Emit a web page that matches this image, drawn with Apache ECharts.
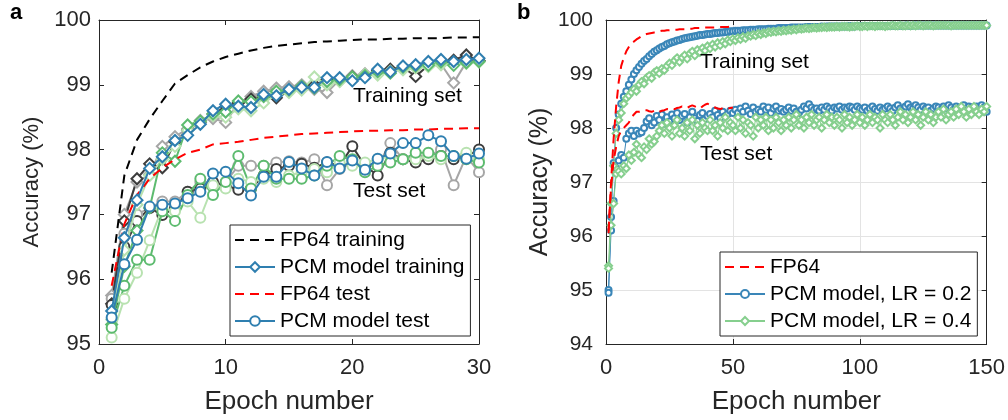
<!DOCTYPE html>
<html>
<head>
<meta charset="utf-8">
<script src="https://cdn.jsdelivr.net/npm/echarts@6/dist/echarts.min.js"></script>
<style>html,body{margin:0;padding:0;background:#fff}#c{width:1008px;height:420px}</style>
</head>
<body>
<div id="c"></div>
<script>
// ---------- Panel a (30 epochs) ----------
const fp64TrainA = [96.1,97.6,98.15,98.47,98.75,99.02,99.15,99.27,99.36,99.43,99.48,99.53,99.57,99.6,99.62,99.64,99.66,99.67,99.68,99.69,99.7,99.7,99.71,99.71,99.72,99.72,99.72,99.73,99.73,99.735];
const fp64TestA = [95.9,96.85,97.3,97.55,97.72,97.85,97.95,98.0,98.08,98.1,98.12,98.15,98.18,98.2,98.22,98.24,98.25,98.26,98.27,98.28,98.29,98.29,98.3,98.3,98.31,98.31,98.32,98.32,98.33,98.33];
const pcmTrainA = [95.51,96.64,97.22,97.71,97.89,98.14,98.22,98.39,98.6,98.7,98.67,98.65,98.85,98.83,98.93,98.96,98.96,99.11,99.11,99.06,99.11,99.24,99.2,99.29,99.31,99.36,99.39,99.36,99.39,99.41];
const pcmTestA = [95.41,96.23,96.61,97.12,97.15,97.17,97.25,97.35,97.63,97.66,97.48,97.29,97.58,97.58,97.81,97.71,97.6,97.81,97.71,97.83,97.69,97.86,97.94,98.1,98.1,98.22,98.13,97.9,97.86,97.94];
const darkTrainA = [95.62,96.9,97.55,97.78,97.72,98.12,98.3,98.42,98.55,98.66,98.72,98.78,98.83,98.8,98.9,98.95,99.0,99.08,99.06,99.12,99.15,99.22,99.24,99.27,99.13,99.3,99.33,99.38,99.46,99.37];
const darkTestA = [95.6,96.5,96.9,97.1,96.99,97.1,97.35,97.4,97.5,97.45,97.38,97.4,97.6,97.7,97.75,97.78,97.72,97.8,97.75,98.05,97.75,97.6,97.95,97.85,97.8,97.85,97.9,97.85,97.9,98.0];
const greyTrainA = [95.75,97.0,97.5,97.62,98.05,98.2,98.32,98.45,98.48,98.42,98.72,98.82,98.9,98.95,98.97,99.0,98.93,98.88,99.08,99.14,99.17,99.2,99.21,99.25,99.27,99.3,99.32,99.03,99.35,99.37];
const greyTestA = [95.7,96.7,97.0,97.1,97.2,97.2,97.35,97.5,97.45,97.5,97.75,97.75,97.75,97.8,97.82,97.8,97.85,97.45,97.7,97.8,97.75,97.75,98.1,97.85,97.9,97.9,98.0,97.45,97.9,97.65];
const midTrainA = [95.3,96.2,96.75,97.1,97.95,97.82,98.38,98.44,98.55,98.58,98.75,98.74,98.82,98.9,98.92,98.98,98.95,99.05,99.08,99.12,99.14,99.2,99.18,99.27,99.29,99.3,99.35,99.3,99.34,99.36];
const midTestA = [95.25,95.9,96.3,96.3,97.05,96.9,97.3,97.55,97.3,97.5,97.9,97.4,97.75,97.55,97.55,97.55,97.6,97.75,97.9,97.85,97.65,97.75,97.8,97.85,97.95,97.95,97.9,97.9,97.85,97.8];
const lightTrainA = [95.38,96.45,97.15,97.6,97.85,98.05,98.3,98.43,98.52,98.5,98.63,98.6,98.72,98.85,98.88,98.92,99.12,99.0,99.05,99.1,99.16,99.15,99.21,99.23,99.26,99.28,99.31,99.32,99.33,99.35];
const lightTestA = [95.1,95.7,96.1,96.6,97.1,97.05,97.2,96.95,97.45,97.4,97.55,97.5,97.55,97.5,97.6,97.65,97.7,97.65,97.8,97.75,97.8,97.85,97.9,97.85,97.85,97.9,97.85,97.9,97.95,97.85];

// ---------- Panel b (150 epochs; FP64 50 epochs) ----------
const fp64TrainB = [96.05,97.0,97.8,98.4,98.85,99.15,99.3,99.42,99.5,99.56,
99.6,99.64,99.67,99.7,99.72,99.74,99.75,99.76,99.77,99.78,
99.79,99.8,99.8,99.81,99.81,99.82,99.82,99.82,99.83,99.83,
99.83,99.84,99.84,99.84,99.85,99.85,99.85,99.85,99.86,99.86,
99.86,99.86,99.86,99.87,99.87,99.87,99.87,99.87,99.88,99.88];
const fp64TestB = [96.1,96.9,97.4,97.65,97.85,97.95,98.0,98.05,98.1,98.2,
98.25,98.3,98.3,98.32,98.33,98.33,98.31,98.3,98.32,98.33,
98.3,98.32,98.33,98.35,98.34,98.36,98.35,98.37,98.38,98.4,
98.38,98.37,98.4,98.42,98.4,98.38,98.36,98.4,98.43,98.45,
98.42,98.4,98.38,98.36,98.35,98.37,98.38,98.36,98.37,98.38];
const lr02TrainB = [95.0,96.35,97.35,98.0,98.25,98.45,98.58,98.68,98.8,98.9,
99.0,99.07,99.13,99.19,99.24,99.28,99.33,99.37,99.41,99.44,
99.47,99.5,99.52,99.55,99.57,99.59,99.6,99.62,99.63,99.65,
99.66,99.67,99.68,99.69,99.7,99.71,99.72,99.72,99.73,99.74,
99.74,99.75,99.76,99.76,99.77,99.77,99.78,99.78,99.79,99.79,
99.8,99.8,99.8,99.81,99.81,99.81,99.82,99.82,99.82,99.83,
99.83,99.83,99.83,99.84,99.84,99.84,99.84,99.85,99.85,99.85,
99.85,99.85,99.86,99.86,99.86,99.86,99.86,99.86,99.87,99.87,
99.87,99.87,99.87,99.87,99.88,99.87,99.88,99.88,99.88,99.88,
99.88,99.88,99.88,99.88,99.88,99.89,99.88,99.88,99.89,99.89,
99.89,99.89,99.89,99.89,99.89,99.89,99.89,99.89,99.89,99.89,
99.89,99.89,99.9,99.89,99.89,99.9,99.89,99.9,99.9,99.89,
99.9,99.9,99.9,99.9,99.9,99.9,99.9,99.9,99.9,99.9,
99.9,99.9,99.9,99.9,99.9,99.9,99.9,99.9,99.9,99.9,
99.9,99.9,99.9,99.9,99.9,99.9,99.9,99.9,99.9,99.9];
const lr02TestB = [94.95,96.1,96.65,97.25,97.4,97.5,97.45,97.8,97.9,97.95,
97.85,97.95,97.9,97.92,98.0,98.12,98.18,98.05,98.1,98.22,
98.15,98.25,98.08,98.2,98.12,98.25,98.18,98.28,98.15,98.22,
98.26,98.1,98.2,98.3,98.18,98.13,98.24,98.28,98.16,98.22,
98.26,98.2,98.32,98.24,98.18,98.3,98.22,98.26,98.32,98.28,
98.34,98.28,98.36,98.3,98.4,98.32,98.26,98.38,98.3,98.34,
98.3,98.4,98.34,98.38,98.28,98.36,98.4,98.32,98.35,98.3,
98.34,98.38,98.32,98.36,98.3,98.28,98.34,98.4,98.36,98.44,
98.38,98.34,98.36,98.32,98.38,98.34,98.4,98.36,98.32,98.38,
98.36,98.4,98.34,98.38,98.36,98.4,98.38,98.34,98.4,98.36,
98.34,98.38,98.32,98.36,98.4,98.35,98.32,98.38,98.34,98.36,
98.4,98.36,98.32,98.38,98.42,98.36,98.34,98.4,98.44,98.38,
98.36,98.42,98.38,98.34,98.4,98.36,98.38,98.32,98.36,98.4,
98.38,98.34,98.4,98.36,98.42,98.38,98.34,98.4,98.36,98.38,
98.42,98.36,98.4,98.38,98.34,98.4,98.36,98.42,98.38,98.3];
const lr04TrainB = [95.45,96.6,97.3,97.9,98.15,98.28,98.45,98.55,98.6,98.66,
98.72,98.68,98.8,98.86,98.82,98.93,98.97,98.92,99.03,99.06,
99.01,99.1,99.07,99.15,99.2,99.16,99.25,99.3,99.22,99.3,
99.35,99.28,99.38,99.42,99.34,99.45,99.4,99.48,99.43,99.52,
99.47,99.55,99.5,99.58,99.53,99.6,99.56,99.63,99.6,99.65,
99.62,99.67,99.64,99.69,99.66,99.71,99.7,99.73,99.71,99.75,
99.73,99.76,99.75,99.78,99.77,99.79,99.78,99.8,99.79,99.81,
99.8,99.82,99.81,99.83,99.82,99.84,99.83,99.84,99.85,99.84,
99.85,99.86,99.85,99.86,99.86,99.87,99.86,99.87,99.87,99.87,
99.88,99.87,99.88,99.88,99.88,99.87,99.88,99.88,99.89,99.88,
99.88,99.89,99.88,99.89,99.89,99.88,99.89,99.89,99.89,99.88,
99.89,99.89,99.9,99.89,99.89,99.9,99.89,99.89,99.9,99.89,
99.9,99.89,99.9,99.9,99.89,99.9,99.9,99.9,99.89,99.9,
99.9,99.9,99.9,99.9,99.9,99.89,99.9,99.9,99.9,99.9,
99.9,99.9,99.9,99.9,99.9,99.9,99.9,99.9,99.9,99.9];
const lr04TestB = [95.4,96.2,96.6,97.15,97.2,97.15,97.3,97.25,97.5,97.4,
97.55,97.7,97.5,97.45,97.65,97.6,97.8,97.7,97.75,97.85,
97.95,98.05,97.9,98.1,98.0,97.85,98.05,98.15,97.9,98.0,
97.85,98.1,97.95,98.15,97.8,98.05,97.9,98.1,98.0,97.95,
98.15,97.95,98.05,97.85,98.1,98.0,98.2,97.95,98.1,98.05,
97.95,98.2,98.0,98.15,97.9,98.1,98.05,97.85,98.2,98.0,
98.15,98.05,98.2,97.95,98.15,98.0,98.2,98.1,97.95,98.15,
98.05,98.2,98.0,98.15,98.25,98.05,98.15,98.0,98.2,98.1,
98.25,98.05,98.15,98.2,98.0,98.15,98.25,98.1,98.2,98.05,
98.2,98.15,98.0,98.25,98.1,98.2,98.05,98.15,98.25,98.1,
98.2,98.05,98.15,98.25,98.1,98.2,98.15,98.0,98.25,98.15,
98.1,98.25,98.15,98.05,98.2,98.3,98.15,98.25,98.1,98.2,
98.3,98.15,98.25,98.05,98.2,98.3,98.15,98.25,98.1,98.2,
98.3,98.2,98.35,98.15,98.25,98.3,98.2,98.35,98.25,98.4,
98.3,98.2,98.35,98.25,98.4,98.3,98.25,98.35,98.3,98.4];

const ticksYA = [95,96,97,98,99,100];
const ticksYB = [94,95,96,97,98,99,100];

const FONT = "'Liberation Sans', Arial, Helvetica, sans-serif";
const AX = '#262626';
const BLUE = '#2f7fb0';
const BLUE_B = '#3a86b8';
const GREEN_B = '#86cf8e';

const pairs = arr => arr.map((v, i) => [i + 1, v]);

function ser(name, arr, color, symbol, size, lw, gi, z, dashed) {
  return {
    name: name, type: 'line', xAxisIndex: gi * 2, yAxisIndex: gi * 2,
    data: pairs(arr), z: z,
    symbol: symbol || 'none', symbolSize: size, showSymbol: !!symbol,
    itemStyle: { color: color, borderColor: color, borderWidth: lw },
    lineStyle: { color: color, width: lw, type: dashed ? [9, 6] : 'solid' },
    emphasis: { disabled: true }, animation: false
  };
}

function xAx(gi, max, interval, bottom, grid) {
  return {
    type: 'value', gridIndex: gi, min: 0, max: max, interval: interval,
    position: bottom ? 'bottom' : 'top',
    axisLine: { show: true, onZero: false, lineStyle: { color: AX, width: 1 } },
    axisTick: { show: true, inside: true, length: 5, lineStyle: { color: AX } },
    axisLabel: { show: bottom, fontSize: 22, color: AX, margin: 13, fontFamily: FONT },
    splitLine: { show: bottom && grid, lineStyle: { color: '#e3e3e3' } },
    name: bottom ? 'Epoch number' : '', nameLocation: 'middle', nameGap: 45,
    nameTextStyle: { fontSize: 26, color: AX, fontFamily: FONT }
  };
}
function yAx(gi, min, left, grid, nameSize, nameGap, labMargin, labSize) {
  return {
    type: 'value', gridIndex: gi, min: min, max: 100, interval: 1,
    position: left ? 'left' : 'right',
    axisLine: { show: true, onZero: false, lineStyle: { color: AX, width: 1 } },
    axisTick: { show: true, inside: true, length: 5, lineStyle: { color: AX } },
    axisLabel: { show: left, fontSize: labSize, color: AX, margin: labMargin, fontFamily: FONT },
    splitLine: { show: left && grid, lineStyle: { color: '#e3e3e3' } },
    name: left ? 'Accuracy (%)' : '', nameLocation: 'middle', nameGap: nameGap,
    nameTextStyle: { fontSize: nameSize, color: AX, fontFamily: FONT }
  };
}

const noMarker = { opacity: 0 };

const chart = echarts.init(document.getElementById('c'), null, { renderer: 'canvas' });
chart.setOption({
  animation: false,
  backgroundColor: '#fff',
  textStyle: { fontFamily: FONT },
  grid: [
    { left: 99, top: 20, width: 380, height: 327 },
    { left: 606, top: 20, width: 381, height: 327 }
  ],
  xAxis: [xAx(0, 30, 10, true, false), xAx(0, 30, 10, false, false),
          xAx(1, 150, 50, true, true), xAx(1, 150, 50, false, true)],
  yAxis: [yAx(0, ticksYA[0], true, false, 22, 56, 8, 22), yAx(0, ticksYA[0], false, false, 22, 56, 8, 22),
          yAx(1, ticksYB[0], true, true, 25, 53, 13, 21), yAx(1, ticksYB[0], false, true, 25, 53, 13, 21)],
  legend: [
    {
      orient: 'vertical', left: 230, top: 225, itemWidth: 40, itemHeight: 12, itemGap: 5,
      padding: [4, 6, 4, 4], borderColor: AX, borderWidth: 1, backgroundColor: '#fff',
      textStyle: { fontSize: 21, color: '#000', lineHeight: 22, fontFamily: FONT },
      selectedMode: false, z: 10,
      data: [{ name: 'FP64 training', itemStyle: noMarker }, 'PCM model training',
             { name: 'FP64 test', itemStyle: noMarker }, 'PCM model test']
    },
    {
      orient: 'vertical', left: 720, top: 252, itemWidth: 40, itemHeight: 10, itemGap: 5,
      padding: [4, 6, 4, 4], borderColor: AX, borderWidth: 1, backgroundColor: '#fff',
      textStyle: { fontSize: 21, color: '#000', lineHeight: 22, fontFamily: FONT },
      selectedMode: false, z: 10,
      data: [{ name: 'FP64', itemStyle: noMarker }, 'PCM model, LR = 0.2', 'PCM model, LR = 0.4']
    }
  ],
  graphic: [
    { type: 'text', left: 10, top: 2, style: { text: 'a', fontSize: 22, fontWeight: 'bold', fill: '#000', fontFamily: FONT } },
    { type: 'text', left: 517, top: 2, style: { text: 'b', fontSize: 22, fontWeight: 'bold', fill: '#000', fontFamily: FONT } },
    { type: 'text', left: 353, top: 86, z: 20, style: { text: 'Training set', fontSize: 21, fill: '#000', fontFamily: FONT } },
    { type: 'text', left: 353, top: 181, z: 20, style: { text: 'Test set', fontSize: 21, fill: '#000', fontFamily: FONT } },
    { type: 'text', left: 700, top: 52, z: 20, style: { text: 'Training set', fontSize: 21, fill: '#000', fontFamily: FONT } },
    { type: 'text', left: 700, top: 144, z: 20, style: { text: 'Test set', fontSize: 21, fill: '#000', fontFamily: FONT } }
  ],
  series: [
    // panel a: extra trials
    ser('grey training', greyTrainA, '#a6a6a6', 'emptyDiamond', 11, 2, 0, 2),
    ser('grey test', greyTestA, '#a6a6a6', 'emptyCircle', 10, 2, 0, 2),
    ser('dark training', darkTrainA, '#3d3d3d', 'emptyDiamond', 11, 2, 0, 2),
    ser('dark test', darkTestA, '#3d3d3d', 'emptyCircle', 10, 2, 0, 2),
    ser('light training', lightTrainA, '#b8e2b0', 'emptyDiamond', 11, 2, 0, 3),
    ser('light test', lightTestA, '#b8e2b0', 'emptyCircle', 10, 2, 0, 3),
    ser('mid training', midTrainA, '#5dbb6f', 'emptyDiamond', 11, 2, 0, 3),
    ser('mid test', midTestA, '#5dbb6f', 'emptyCircle', 10, 2, 0, 3),
    ser('FP64 training', fp64TrainA, '#000000', null, 0, 2, 0, 4, true),
    ser('FP64 test', fp64TestA, '#ff0000', null, 0, 2, 0, 4, true),
    ser('PCM model training', pcmTrainA, BLUE, 'emptyDiamond', 11, 2, 0, 5),
    ser('PCM model test', pcmTestA, BLUE, 'emptyCircle', 10, 2, 0, 5),
    // panel b
    ser('PCM model, LR = 0.4', lr04TrainB, GREEN_B, 'emptyDiamond', 7, 1, 1, 3),
    ser('PCM model, LR = 0.4', lr04TestB, GREEN_B, 'emptyDiamond', 7, 1, 1, 3),
    ser('PCM model, LR = 0.2', lr02TrainB, BLUE_B, 'emptyCircle', 6, 1, 1, 2),
    ser('PCM model, LR = 0.2', lr02TestB, BLUE_B, 'emptyCircle', 6, 1, 1, 2),
    ser('FP64', fp64TrainB, '#ff0000', null, 0, 2, 1, 4, true),
    ser('FP64', fp64TestB, '#ff0000', null, 0, 2, 1, 4, true)
  ]
});
</script>
</body>
</html>
